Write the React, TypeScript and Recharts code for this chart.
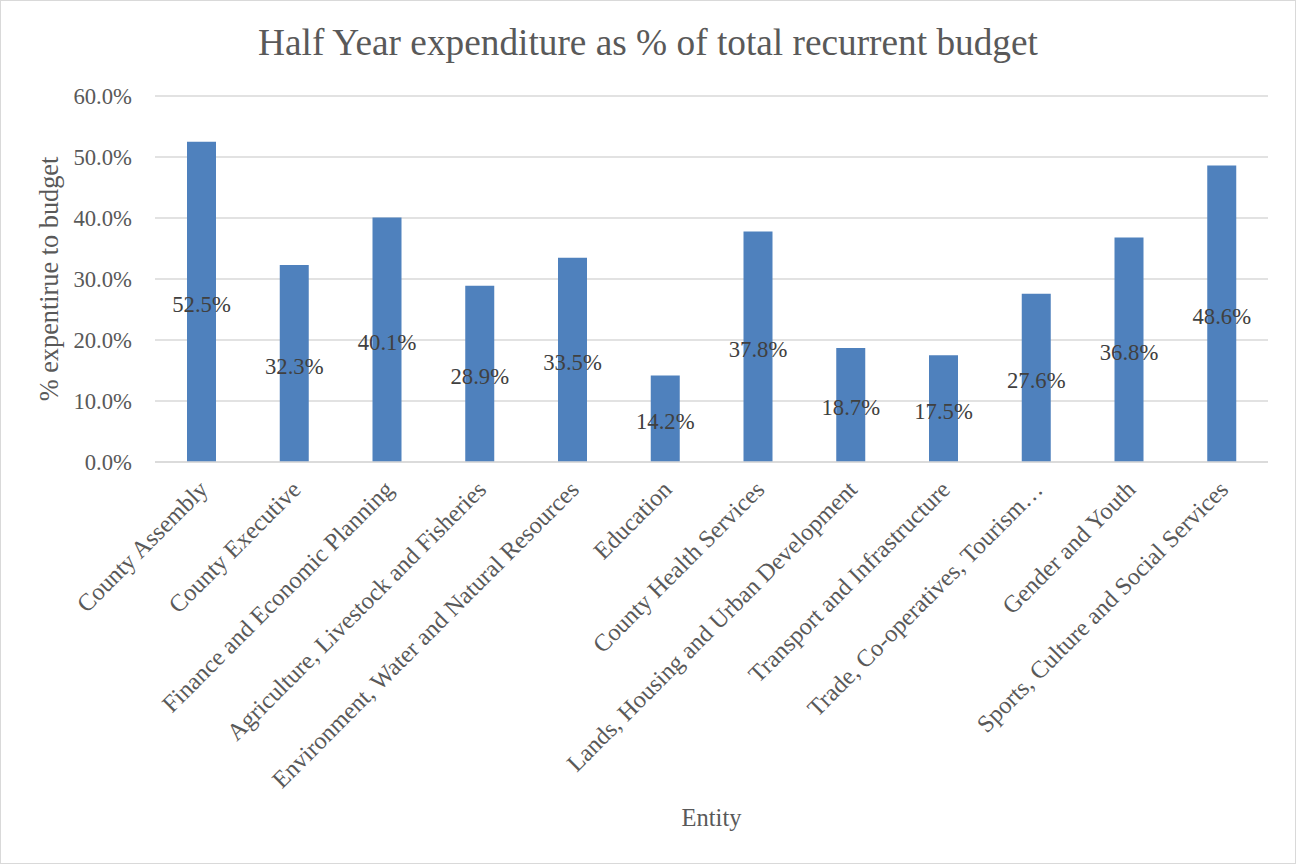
import { Bar, BarChart, CartesianGrid, LabelList, Label, XAxis, YAxis } from "recharts";

const BLUE = "#4F81BD";
const GRID = "#D9D9D9";
const TEXT = "#595959";
const FONT = "'Liberation Serif', 'Times New Roman', serif";

const entities = [
  "County Assembly",
  "County Executive",
  "Finance and Economic Planning",
  "Agriculture, Livestock and Fisheries",
  "Environment, Water and Natural Resources",
  "Education",
  "County Health Services",
  "Lands, Housing and Urban Development",
  "Transport and Infrastructure",
  "Trade, Co-operatives, Tourism…",
  "Gender and Youth",
  "Sports, Culture and Social Services",
];

const spentPct = [52.5, 32.3, 40.1, 28.9, 33.5, 14.2, 37.8, 18.7, 17.5, 27.6, 36.8, 48.6];

const yTicks = [0, 10, 20, 30, 40, 50, 60];

const data = entities.map((entity, i) => ({ entity, pct: spentPct[i] }));

const pctFmt = (v: number) => `${Number(v).toFixed(1)}%`;

function EntityTick({ x, y, payload }: any) {
  return (
    <g transform={`translate(${x + 8},${y + 27})`}>
      <text
        textAnchor="end"
        transform="rotate(-45)"
        fill={TEXT}
        fontSize={24.3}
        fontFamily={FONT}
      >
        {payload.value}
      </text>
    </g>
  );
}

export default function App() {
  return (
    <div
      style={{
        position: "absolute",
        left: 0,
        top: 0,
        width: 1296,
        height: 864,
        boxSizing: "border-box",
        border: `1px solid ${GRID}`,
        background: "#fff",
        fontFamily: FONT,
      }}
    >
      {/* Title */}
      <div
        style={{
          position: "absolute",
          left: 0,
          top: 23,
          width: 1294,
          textAlign: "center",
          fontSize: 37.3,
          lineHeight: "37px",
          color: TEXT,
        }}
      >
        Half Year expenditure as % of total recurrent budget
      </div>

      <BarChart
        width={1294}
        height={862}
        data={data}
        margin={{ top: 95, right: 27, left: 0, bottom: 0 }}
        barSize={29}
      >
        <CartesianGrid vertical={false} stroke={GRID} strokeWidth={1.5} />
        <XAxis
          dataKey="entity"
          height={401}
          interval={0}
          tickLine={false}
          tickSize={0}
          axisLine={{ stroke: GRID, strokeWidth: 1.5 }}
          tick={<EntityTick />}
        >
          <Label
            value="Entity"
            position="insideBottom"
            offset={37}
            fill={TEXT}
            fontSize={24.5}
            fontFamily={FONT}
          />
        </XAxis>
        <YAxis
          width={154}
          domain={[0, 60]}
          ticks={yTicks}
          tickFormatter={pctFmt}
          axisLine={false}
          tickLine={false}
          tickSize={0}
          tickMargin={23}
          tick={{ fill: TEXT, fontSize: 22.7, fontFamily: FONT }}
        >
          <Label
            content={({ viewBox }: any) => {
              const cy = viewBox.y + viewBox.height / 2;
              return (
                <text
                  x={57}
                  y={cy}
                  transform={`rotate(-90, 57, ${cy})`}
                  textAnchor="middle"
                  fill={TEXT}
                  fontSize={26.3}
                  fontFamily={FONT}
                >
                  % expentirue to budget
                </text>
              );
            }}
          />
        </YAxis>
        <Bar dataKey="pct" fill={BLUE} isAnimationActive={false}>
          <LabelList
            dataKey="pct"
            position="center"
            formatter={pctFmt}
            fill="#404040"
            fontSize={22.7}
            fontFamily={FONT}
            dy={2}
          />
        </Bar>
      </BarChart>
    </div>
  );
}
